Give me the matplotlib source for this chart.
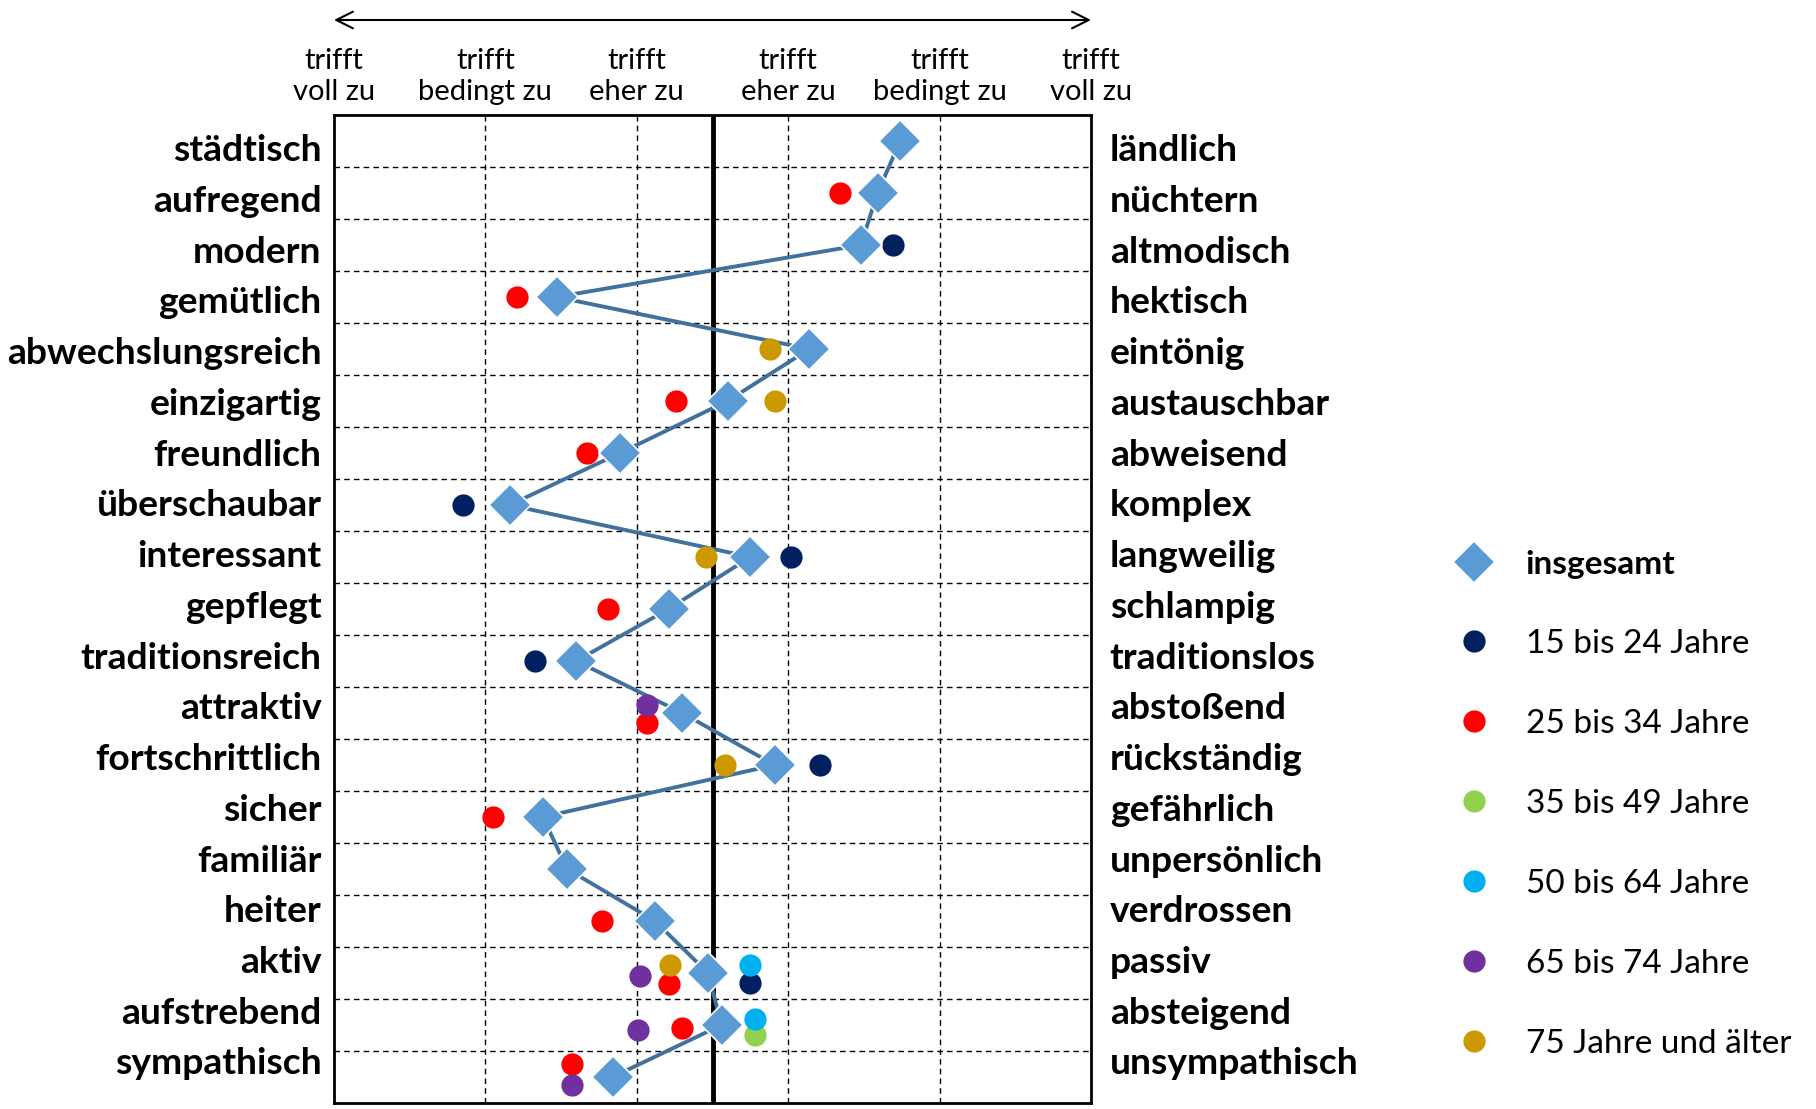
import numpy as np
import matplotlib.pyplot as plt

plt.rcParams['font.family'] = ['Lato', 'DejaVu Sans']

# Gegensatzpaare, von oben nach unten
left_labels = ['städtisch', 'aufregend', 'modern', 'gemütlich', 'abwechslungsreich',
               'einzigartig', 'freundlich', 'überschaubar', 'interessant', 'gepflegt',
               'traditionsreich', 'attraktiv', 'fortschrittlich', 'sicher', 'familiär',
               'heiter', 'aktiv', 'aufstrebend', 'sympathisch']
right_labels = ['ländlich', 'nüchtern', 'altmodisch', 'hektisch', 'eintönig',
                'austauschbar', 'abweisend', 'komplex', 'langweilig', 'schlampig',
                'traditionslos', 'abstoßend', 'rückständig', 'gefährlich', 'unpersönlich',
                'verdrossen', 'passiv', 'absteigend', 'unsympathisch']

# Skala 1..6, Mitte 3.5
scale_top = ['trifft', 'trifft', 'trifft', 'trifft', 'trifft', 'trifft']
scale_bottom = ['voll zu', 'bedingt zu', 'eher zu', 'eher zu', 'bedingt zu', 'voll zu']
scale_pos = [1, 2, 3, 4, 5, 6]

insgesamt = [4.74, 4.59, 4.48, 2.47, 4.14, 3.60, 2.89, 2.16, 3.75, 3.21,
             2.60, 3.30, 3.91, 2.38, 2.54, 3.12, 3.47, 3.56, 2.84]

# Altersgruppen: nur auffaellige Abweichungen sind eingetragen
groups = ['15 bis 24 Jahre', '25 bis 34 Jahre', '35 bis 49 Jahre',
          '50 bis 64 Jahre', '65 bis 74 Jahre', '75 Jahre und älter']
group_colors = ['#002060', '#FF0000', '#92D050', '#00B0F0', '#7030A0', '#CC9900']
g15_rows = [2, 7, 8, 10, 12, 16]
g15_vals = [4.69, 1.85, 4.02, 2.33, 4.21, 3.75]
g25_rows = [1, 3, 5, 6, 9, 11, 13, 15, 16, 17, 18]
g25_vals = [4.34, 2.21, 3.26, 2.67, 2.81, 3.07, 2.05, 2.77, 3.21, 3.30, 2.57]
g35_rows = [17]
g35_vals = [3.78]
g50_rows = [16, 17]
g50_vals = [3.75, 3.78]
g65_rows = [11, 16, 17, 18]
g65_vals = [3.07, 3.02, 3.01, 2.57]
g75_rows = [4, 5, 8, 12, 16]
g75_vals = [3.88, 3.91, 3.46, 3.58, 3.22]
group_rows = [g15_rows, g25_rows, g35_rows, g50_rows, g65_rows, g75_rows]
group_vals = [g15_vals, g25_vals, g35_vals, g50_vals, g65_vals, g75_vals]

# vertikales Ausweichen (Zeilenanteile), wenn Punkte sich ueberdecken
nudge = {(1, 11): 0.2, (4, 11): -0.15,
         (5, 16): -0.15, (1, 16): 0.22, (3, 16): -0.15, (0, 16): 0.2, (4, 16): 0.05,
         (3, 17): -0.12, (2, 17): 0.2, (4, 17): 0.1, (1, 17): 0.05,
         (1, 18): -0.25, (4, 18): 0.15}

W, H = 1816, 1109
fig = plt.figure(figsize=(W / 100, H / 100), dpi=100)
ax = fig.add_axes([334 / W, 1 - 1103 / H, 757 / W, 988 / H])
n = len(left_labels)
rows = np.arange(n)

ax.set_xlim(1, 6)
ax.set_ylim(n - 0.5, -0.5)
ax.set_xticks([])
ax.set_yticks([])
for s in ax.spines.values():
    s.set_linewidth(2.0)
for x in [2, 3, 4, 5]:
    ax.axvline(x, color='black', lw=1.0, ls=(0, (4, 3)), zorder=1)
for y in np.arange(0.5, n - 1, 1):
    ax.axhline(y, color='black', lw=1.0, ls=(0, (4, 3)), zorder=1)
ax.axvline(3.5, color='black', lw=3.5, zorder=2)

ax.plot(insgesamt, rows, color='#41719C', lw=2.8, zorder=3)
handles = []
for gi, (name, col) in enumerate(zip(groups, group_colors)):
    ys = [r + nudge.get((gi, r), 0) for r in group_rows[gi]]
    h, = ax.plot(group_vals[gi], ys, 'o', ms=16, color=col, mec='none',
                 zorder=4, label=name)
    handles.append(h)
dia, = ax.plot(insgesamt, rows, 'D', ms=21, color='#5B9BD5', mec='white',
               mew=1.2, zorder=5, label='insgesamt')
handles.insert(0, dia)

# Beschriftungen laufen etwas enger als die Zeilen
for i in range(n):
    yb = 0.9756 * i + 0.39
    ax.annotate(left_labels[i], xy=(0, yb), xycoords=('axes fraction', 'data'),
                xytext=(-9, 0), textcoords='offset points', ha='right', va='baseline',
                fontsize=26.8, fontweight='bold')
    ax.annotate(right_labels[i], xy=(1, yb), xycoords=('axes fraction', 'data'),
                xytext=(13.5, 0), textcoords='offset points', ha='left', va='baseline',
                fontsize=26.8, fontweight='bold')

for x, t, b in zip(scale_pos, scale_top, scale_bottom):
    ax.annotate(t, xy=(x, 1), xycoords=('data', 'axes fraction'), xytext=(0, 33),
                textcoords='offset points', ha='center', va='baseline', fontsize=21)
    ax.annotate(b, xy=(x, 1), xycoords=('data', 'axes fraction'), xytext=(0, 11),
                textcoords='offset points', ha='center', va='baseline', fontsize=21)

ax.annotate('', xy=(6, H - 20), xytext=(1, H - 20), xycoords=('data', 'figure pixels'),
            textcoords=('data', 'figure pixels'),
            arrowprops=dict(arrowstyle='<->, head_length=0.6, head_width=0.3',
                            mutation_scale=20, lw=1.5, color='black',
                            shrinkA=0, shrinkB=0), annotation_clip=False)

leg = ax.legend(handles, [h.get_label() for h in handles], loc='upper left',
                bbox_to_anchor=(1457 / W, 1 - 550 / H), bbox_transform=fig.transFigure,
                frameon=False, fontsize=24, handlelength=1, handletextpad=1.06,
                labelspacing=1.5, borderpad=0, borderaxespad=0, numpoints=1)
leg.get_texts()[0].set_fontweight('bold')

fig.savefig('out.png', dpi=100)
